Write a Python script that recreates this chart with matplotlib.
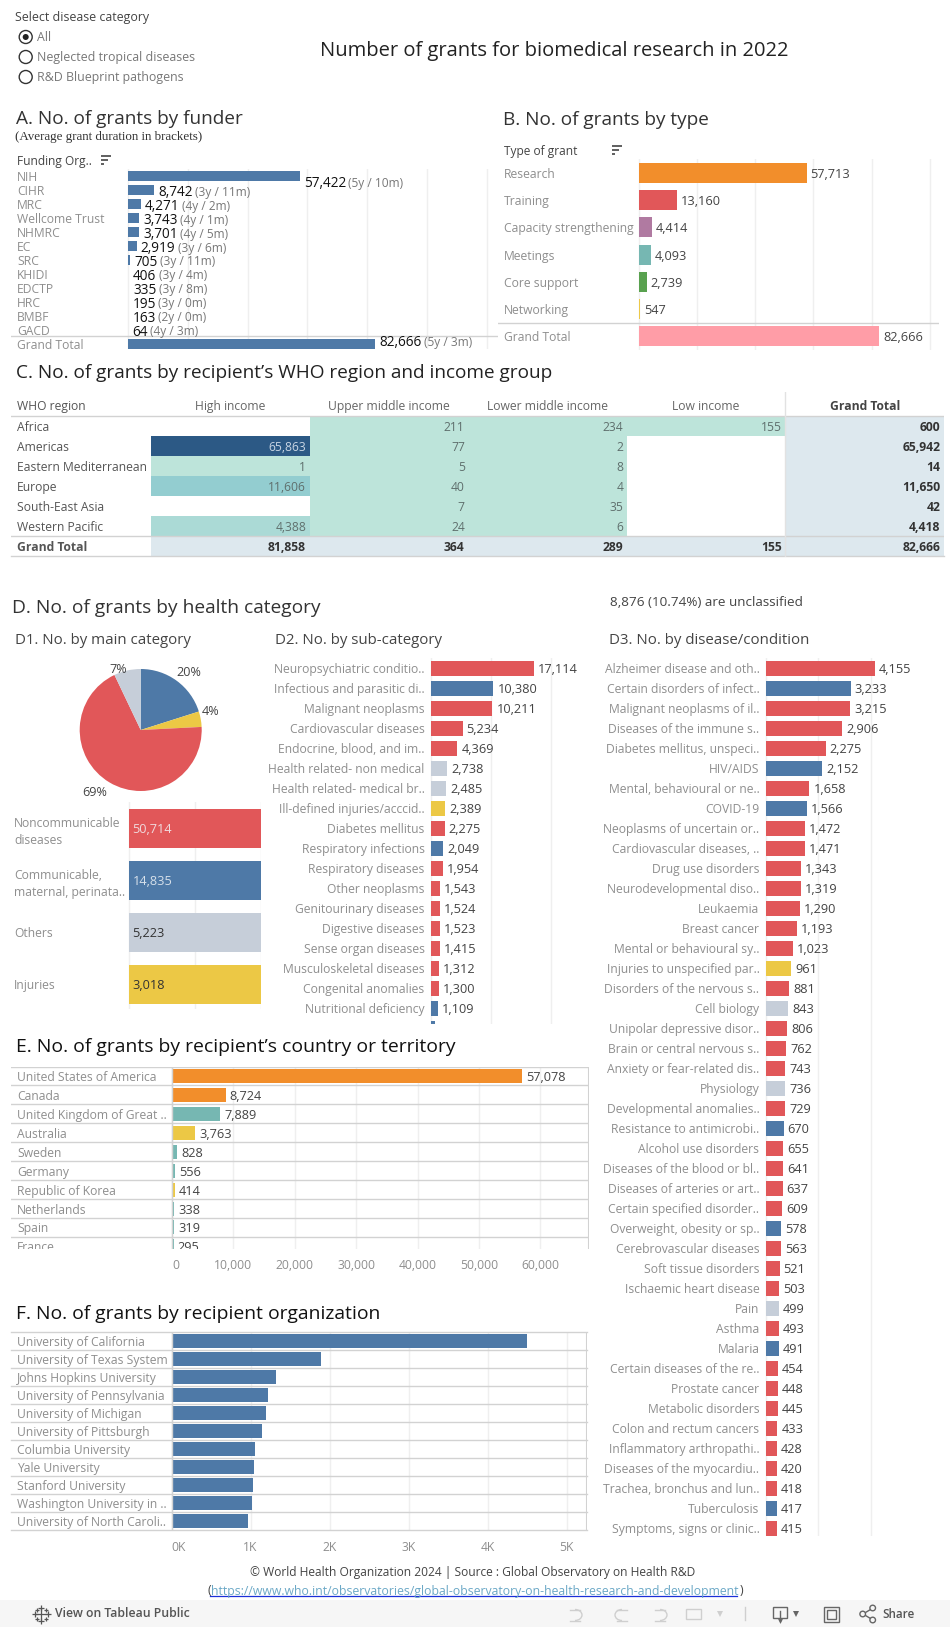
import numpy as np
import matplotlib
matplotlib.use('Agg')
import matplotlib.pyplot as plt
from matplotlib.colors import LinearSegmentedColormap
from matplotlib.patches import Arc, Circle, Rectangle

W, H = 950, 1627
PX = 72 / 100  # one pixel in points at dpi 100

funder_names = ['NIH', 'CIHR', 'MRC', 'Wellcome Trust', 'NHMRC', 'EC', 'SRC', 'KHIDI',
                'EDCTP', 'HRC', 'BMBF', 'GACD', 'Grand Total']
funder_values = [57422, 8742, 4271, 3743, 3701, 2919, 705, 406, 335, 195, 163, 64, 82666]
funder_durations = ['(5y / 10m)', '(3y / 11m)', '(4y / 2m)', '(4y / 1m)', '(4y / 5m)', '(3y / 6m)', '(3y / 11m)',
                    '(3y / 4m)', '(3y / 8m)', '(3y / 0m)', '(2y / 0m)', '(4y / 3m)', '(5y / 3m)']

type_names = ['Research', 'Training', 'Capacity strengthening', 'Meetings', 'Core support',
              'Networking', 'Grand Total']
type_values = [57713, 13160, 4414, 4093, 2739, 547, 82666]
type_colors = ['#f28e2b', '#e15759', '#b07aa1', '#76b7b2', '#59a14f', '#edc948', '#ff9da7']

regions = ['Africa', 'Americas', 'Eastern Mediterranean', 'Europe', 'South-East Asia', 'Western Pacific']
income_groups = ['High income', 'Upper middle income', 'Lower middle income', 'Low income']
high_income = [np.nan, 65863, 1, 11606, np.nan, 4388]
upper_middle = [211, 77, 5, 40, 7, 24]
lower_middle = [234, 2, 8, 4, 35, 6]
low_income = [155, np.nan, np.nan, np.nan, np.nan, np.nan]
region_totals = [600, 65942, 14, 11650, 42, 4418]
income_totals = [81858, 364, 289, 155, 82666]

main_names = ['Noncommunicable\ndiseases', 'Communicable,\nmaternal, perinata..', 'Others', 'Injuries']
main_values = [50714, 14835, 5223, 3018]
main_colors = ['#e15759', '#4e79a7', '#c6ced9', '#ecc845']
pie_order = [1, 3, 0, 2]

sub_names = ['Neuropsychiatric conditio..', 'Infectious and parasitic di..', 'Malignant neoplasms',
             'Cardiovascular diseases', 'Endocrine, blood, and im..', 'Health related- non medical',
             'Health related- medical br..', 'Ill-defined injuries/acccid..', 'Diabetes mellitus',
             'Respiratory infections', 'Respiratory diseases', 'Other neoplasms',
             'Genitourinary diseases', 'Digestive diseases', 'Sense organ diseases',
             'Musculoskeletal diseases', 'Congenital anomalies', 'Nutritional deficiency', '']
sub_values = [17114, 10380, 10211, 5234, 4369, 2738, 2485, 2389, 2275, 2049, 1954, 1543, 1524,
              1523, 1415, 1312, 1300, 1109, 700]
sub_groups = 'rbrrrggyrbrrrrrrrbb'

disease_names = ['Alzheimer disease and oth..', 'Certain disorders of infect..', 'Malignant neoplasms of il..',
                 'Diseases of the immune s..', 'Diabetes mellitus, unspeci..', 'HIV/AIDS',
                 'Mental, behavioural or ne..', 'COVID-19', 'Neoplasms of uncertain or..',
                 'Cardiovascular diseases, ..', 'Drug use disorders', 'Neurodevelopmental diso..',
                 'Leukaemia', 'Breast cancer', 'Mental or behavioural sy..', 'Injuries to unspecified par..',
                 'Disorders of the nervous s..', 'Cell biology', 'Unipolar depressive disor..',
                 'Brain or central nervous s..', 'Anxiety or fear-related dis..', 'Physiology',
                 'Developmental anomalies..', 'Resistance to antimicrobi..', 'Alcohol use disorders',
                 'Diseases of the blood or bl..', 'Diseases of arteries or art..', 'Certain specified disorder..',
                 'Overweight, obesity or sp..', 'Cerebrovascular diseases', 'Soft tissue disorders',
                 'Ischaemic heart disease', 'Pain', 'Asthma', 'Malaria', 'Certain diseases of the re..',
                 'Prostate cancer', 'Metabolic disorders', 'Colon and rectum cancers',
                 'Inflammatory arthropathi..', 'Diseases of the myocardiu..', 'Trachea, bronchus and lun..',
                 'Tuberculosis', 'Symptoms, signs or clinic..']
disease_values = [4155, 3233, 3215, 2906, 2275, 2152, 1658, 1566, 1472, 1471, 1343, 1319, 1290, 1193,
                  1023, 961, 881, 843, 806, 762, 743, 736, 729, 670, 655, 641, 637, 609, 578, 563,
                  521, 503, 499, 493, 491, 454, 448, 445, 433, 428, 420, 418, 417, 415]
disease_groups = 'rbrrrbrbrrrrrrryrgrr' + 'rgrbrrrrbrrrgrbrrrrrrrbr'

country_names = ['United States of America', 'Canada', 'United Kingdom of Great ..', 'Australia', 'Sweden',
                 'Germany', 'Republic of Korea', 'Netherlands', 'Spain', 'France']
country_values = [57078, 8724, 7889, 3763, 828, 556, 414, 338, 319, 295]
country_groups = 'ootyttyttt'
country_ticks = [0, 10000, 20000, 30000, 40000, 50000, 60000]

org_names = ['University of California', 'University of Texas System', 'Johns Hopkins University',
             'University of Pennsylvania', 'University of Michigan', 'University of Pittsburgh',
             'Columbia University', 'Yale University', 'Stanford University', 'Washington University in ..',
             'University of North Caroli..']
org_values = [4500, 1891, 1324, 1219, 1195, 1143, 1057, 1043, 1029, 1019, 967]
org_ticks = [0, 1000, 2000, 3000, 4000, 5000]

GROUP_COLORS = {'r': '#e15759', 'b': '#4e79a7', 'g': '#c6ced9', 'y': '#ecc845',
                'o': '#f28e2b', 't': '#76b7b2'}
GRID = '#efefef'
RULE = '#d2d2d2'
LABEL = '#8e8e8e'
VALUE = '#444444'
TITLE = '#333333'
FS = 8.75

plt.rcParams['font.family'] = ['Open Sans', 'DejaVu Sans']
fig = plt.figure(figsize=(W / 100, H / 100), dpi=100, facecolor='white')


def bar_axes(left, right, top, bottom, x0, scale, y0, step):
    """Axes placed in pixels; value 0 sits at x0 and row 0 at y0."""
    ax = fig.add_axes([left / W, 1 - bottom / H, (right - left) / W, (bottom - top) / H])
    ax.set_xlim((left - x0) / scale, (right - x0) / scale)
    ax.set_ylim((bottom - y0) / step, (top - y0) / step)
    ax.patch.set_alpha(0)
    for s in ax.spines.values():
        s.set_visible(False)
    ax.tick_params(length=0)
    ax.set_yticks([])
    ax.set_xticks([])
    ax.set_axisbelow(True)
    return ax


def grid_at(ax, ticks):
    for t in ticks:
        ax.axvline(t, color=GRID, lw=1, zorder=0)


def row_text(ax, names, dx, ha='left', color=LABEL, size=FS):
    for i, name in enumerate(names):
        t = ax.annotate(name, (0, i), xytext=(dx * PX, 0), textcoords='offset points', ha=ha,
                        va='center_baseline', color=color, fontsize=size, annotation_clip=False,
                        clip_on=True)
        t.set_clip_box(ax.bbox)


def value_text(ax, values, dx=4, show=None):
    for i, v in enumerate(values):
        if show is not None and i >= show:
            continue
        t = ax.annotate(f'{v:,}', (v, i), xytext=(dx * PX, 0), textcoords='offset points', ha='left',
                        va='center_baseline', color=VALUE, fontsize=FS + 0.4, annotation_clip=False,
                        clip_on=True)
        t.set_clip_box(ax.bbox)


# A. funder bars, the tiniest ones do not show up in the original
ax = bar_axes(11, 498, 169, 349, 128, 0.00299, 176, 14)
grid_at(ax, [0, 20000, 40000, 60000, 80000, 100000, 120000])
ax.barh(range(len(funder_values)), [v if v > 500 else 0 for v in funder_values], height=10 / 14, color='#4e79a7')
ax.axhline(11.43, color=RULE, lw=1)
row_text(ax, funder_names, 17 - 128)
for i, (v, d) in enumerate(zip(funder_values, funder_durations)):
    dy = {'NIH': -5.5, 'Grand Total': 3}.get(funder_names[i], -0.5)
    t = ax.annotate(f'{v:,}', (v, i), xytext=(4 * PX, dy * PX), textcoords='offset points',
                    va='center_baseline', color='#111111', fontsize=9.8, annotation_clip=False)
    ax.annotate(d, xy=(1, 0), xycoords=t, xytext=(2.5 * PX, 1.5 * PX), textcoords='offset points',
                va='bottom', color='#777777', fontsize=8.6, annotation_clip=False)

# B. grant type bars
ax = bar_axes(498, 939, 159, 350, 638.7, 0.00291, 173, 27.2)
grid_at(ax, [0, 20000, 40000, 60000, 80000, 100000])
ax.barh(range(len(type_values)), type_values, height=20 / 27.2, color=type_colors)
ax.axhline(5.5, color=RULE, lw=1)
row_text(ax, type_names, 504 - 638.7)
value_text(ax, type_values)

# C. region by income table
ax = bar_axes(11, 944, 392, 557, 151, 158.6, 426, 20)
cells = np.ma.masked_invalid(np.array([high_income, upper_middle, lower_middle, low_income]).T)
heat = LinearSegmentedColormap.from_list('heat', [(0, '#bde4da'), (0.07, '#aadad6'), (0.18, '#92cdd0'),
                                                  (1, '#2c5985')])
ax.pcolormesh(np.arange(5), np.arange(7) - 0.5, cells, cmap=heat, vmin=0, vmax=65863, zorder=1)
ax.add_patch(Rectangle((4, -0.5), 1, 7, color='#dde8ee', lw=0))
ax.add_patch(Rectangle((0, 5.5), 4, 1, color='#dde8ee', lw=0))
ax.axhline(-0.5, color=RULE, lw=1, zorder=3)
ax.axhline(5.5, color=RULE, lw=1, zorder=3)
ax.axhline(6.5, color=RULE, lw=1, zorder=3, clip_on=False)
ax.axvline(4, color='#e2e2e2', lw=1, zorder=3)
row_text(ax, regions + ['Grand Total'], -134, color='#555555')
ax.texts[-1].set_fontweight('bold')
for j, col in enumerate(cells.T):
    for i, v in enumerate(col):
        if not np.ma.is_masked(v):
            ax.annotate(f'{int(v):,}', (j + 1, i), xytext=(-3.5 * PX, 0), textcoords='offset points', ha='right',
                        va='center_baseline', fontsize=FS, color='#c9d6e4' if v > 50000 else '#5f6f6d', zorder=4)
for i, v in enumerate(region_totals):
    ax.annotate(f'{v:,}', (5, i), xytext=(-3.5 * PX, 0), textcoords='offset points', ha='right',
                va='center_baseline', fontsize=FS, fontweight='bold', color='#333333')
for j, v in enumerate(income_totals):
    ax.annotate(f'{v:,}', (j + 1, 6), xytext=(-3.5 * PX, 0), textcoords='offset points', ha='right',
                va='center_baseline', fontsize=FS, fontweight='bold', color='#333333')
for j, name in enumerate(income_groups):
    ax.text(j + 0.5, -1.05, name, ha='center', va='center_baseline', fontsize=FS, color='#666666')
ax.text(4.5, -1.05, 'Grand Total', ha='center', va='center_baseline', fontsize=FS, fontweight='bold', color='#444444')
ax.annotate('WHO region', (0, -1.05), xytext=(-134 * PX, 0), textcoords='offset points',
            va='center_baseline', fontsize=FS, color='#555555', annotation_clip=False)

# D1. pie and equal-length bars
pie_ax = fig.add_axes([(140.7 - 61) / W, 1 - (730 + 61) / H, 122 / W, 122 / H])
wedge_vals = [main_values[i] for i in pie_order]
pie_ax.pie(wedge_vals, colors=[main_colors[i] for i in pie_order], startangle=90, counterclock=False, radius=1)
pie_ax.set_xlim(-1, 1)
pie_ax.set_ylim(-1, 1)
cum = np.cumsum(wedge_vals) - np.array(wedge_vals) / 2
# tableau puts these labels by its own rules, so distance and turn are per slice
for c, d, turn, v in zip(cum, [1.235, 1.19, 1.266, 1.064], [3.5, -4.8, 5.5, -8], wedge_vals):
    theta = 2 * np.pi * c / sum(wedge_vals) + np.radians(turn)
    pie_ax.text(d * np.sin(theta), d * np.cos(theta), f'{v / sum(wedge_vals):.0%}', ha='center',
                va='center', fontsize=FS + 0.3, color='#444444', clip_on=False)

ax = bar_axes(14, 260.5, 802, 1009, 129, 131.5, 828.3, 52)
grid_at(ax, [0, 0.5, 1])
ax.barh(range(4), [1, 1, 1, 1], height=39 / 52, color=main_colors)
row_text(ax, main_names, 14 - 129)
for t in ax.texts:
    t.set_linespacing(1.45)
for i, v in enumerate(main_values):
    ax.annotate(f'{v:,}', (0, i), xytext=(3.5 * PX, 0), textcoords='offset points', va='center_baseline',
                fontsize=FS + 0.4, color='#f0d9dc' if i == 0 else '#d6e0ea' if i == 1 else '#333333')

# D2. sub-category
ax = bar_axes(260, 590, 657.7, 1024, 431, 0.00602, 668.3, 20)
grid_at(ax, [0, 10000, 20000])
ax.barh(range(len(sub_values)), sub_values, height=0.75, color=[GROUP_COLORS[g] for g in sub_groups])
row_text(ax, sub_names, -6.5, ha='right')
value_text(ax, sub_values, show=18)

# D3. disease or condition
ax = bar_axes(590, 945, 657.7, 1536, 766, 0.0262, 668.3, 20)
grid_at(ax, [0, 2000, 4000])
ax.barh(range(len(disease_values)), disease_values, height=0.75, color=[GROUP_COLORS[g] for g in disease_groups])
row_text(ax, disease_names, -6.5, ha='right')
value_text(ax, disease_values)

# E. countries
ax = bar_axes(11, 589, 1066.5, 1248.5, 172, 0.00614, 1076, 18.93)
grid_at(ax, country_ticks)
ax.barh(range(len(country_values)), country_values, height=14 / 18.93, color=[GROUP_COLORS[g] for g in country_groups])
for i in range(len(country_values)):
    ax.axhline(i - 0.5, color=RULE, lw=1)
ax.axvline(0, color=RULE, lw=1)
ax.axvline(ax.get_xlim()[1], color=RULE, lw=1.5)
row_text(ax, country_names, 17 - 172)
value_text(ax, country_values)
ax.set_xticks(country_ticks, [f'{t:,}' for t in country_ticks], fontsize=FS, color=LABEL)
ax.tick_params(axis='x', pad=7.5)
ax.get_xticklabels()[0].set_ha('left')

# F. organizations
ax = bar_axes(11, 586.5, 1332.3, 1530.3, 171.5, 0.079, 1341.3, 18)
grid_at(ax, org_ticks)
ax.barh(range(len(org_values)), org_values, height=14 / 18, color='#4e79a7')
for i in range(len(org_values) + 1):
    ax.axhline(i - 0.5, color=RULE, lw=1, clip_on=False)
ax.axvline(0, color=RULE, lw=1)
ax.axvline(ax.get_xlim()[1], color=RULE, lw=1.5)
row_text(ax, org_names, 17 - 171.5)
ax.set_xticks(org_ticks, [f'{t // 1000}K' for t in org_ticks], fontsize=FS, color=LABEL)
ax.tick_params(axis='x', pad=7.8)
ax.get_xticklabels()[0].set_ha('left')

# page furniture in pixel coordinates
ov = fig.add_axes([0, 0, 1, 1], zorder=5)
ov.set_xlim(0, W)
ov.set_ylim(H, 0)
ov.axis('off')


def label(x, y, s, size=FS, color=TITLE, **kw):
    kw.setdefault('va', 'center')
    ov.text(x, y, s, fontsize=size, color=color, **kw)


label(15, 17, 'Select disease category', color='#444444', size=8.95)
for y, s in zip([37, 57, 77], ['All', 'Neglected tropical diseases', 'R&D Blueprint pathogens']):
    ov.add_patch(Circle((25.7, y), 6.5, fc='white', ec='#333333', lw=1))
    label(37, y, s, color='#777777', size=8.9)
ov.add_patch(Circle((25.7, 37), 3, fc='#222222', ec='none'))
label(320, 51, 'Number of grants for biomedical research in 2022', size=14.5, color='#222222')

label(16, 119, 'A. No. of grants by funder', size=13.7)
ov.text(15, 137, '(Average grant duration in brackets)', fontsize=9.4, va='center', color='#333333',
        family='Liberation Serif')
label(503, 120, 'B. No. of grants by type', size=13.7)
label(16, 373, 'C. No. of grants by recipient\u2019s WHO region and income group', size=13.7, color='#222222')
label(12, 608, 'D. No. of grants by health category', size=13.8)
label(610.5, 602, '8,876 (10.74%) are unclassified', color='#444444', size=9.7)
label(15, 640, 'D1. No. by main category', size=10.8, color='#444444')
label(275, 640, 'D2. No. by sub-category', size=10.8, color='#444444')
label(609, 640, 'D3. No. by disease/condition', size=10.8, color='#444444')
label(16, 1046.7, 'E. No. of grants by recipient\u2019s country or territory', size=13.95, color='#111111')
label(16, 1313.7, 'F. No. of grants by recipient organization', size=13.9, color='#111111')

label(17, 161, 'Funding Org..', color='#444444', size=8.6, fontweight='medium')
label(504, 151, 'Type of grant', color='#444444', size=8.6, fontweight='medium')
for x, y in [(101, 155.5), (612, 145.5)]:
    for k, w in enumerate([10, 7, 3]):
        ov.plot([x, x + w], [y + k * 4.4] * 2, color='#444444', lw=1.2, solid_capstyle='butt')

label(473, 1572.7, '\u00a9 World Health Organization 2024 | Source : Global Observatory on Health R&D',
      ha='center', color='#444444', size=8.65)
ov.text(207, 1591, '(', fontsize=8.8, va='center', color='#444444')
ov.text(210.5, 1591, 'https://www.who.int/observatories/global-observatory-on-health-research-and-development',
        fontsize=8.8, va='center', color='#6ba8c6')
ov.plot([210, 737], [1596.3, 1596.3], color='#1a2fd8', lw=0.9)
ov.text(739.5, 1591, ')', fontsize=8.8, va='center', color='#444444')

# tableau toolbar
ov.add_patch(Rectangle((0, 1600), W, 27, fc='#f6f6f6', ec='none'))
label(55, 1613.7, 'View on Tableau Public', color='#555555', size=8.8, fontweight='semibold')
label(882.7, 1614, 'Share', color='#555555', size=8.4, fontweight='semibold')
for dx, dy, ms in [(0, 0, 9), (-6.5, 0, 4), (6.5, 0, 4), (0, -6.5, 4), (0, 6.5, 4),
                   (-4.5, -4.5, 3), (4.5, -4.5, 3), (-4.5, 4.5, 3), (4.5, 4.5, 3)]:
    ov.plot(41 + dx, 1614 + dy, '+', ms=ms, mew=0.9, color='#555555')
pale = '#cfcfcf'
for cx, a in [(575, 0), (622, 180), (660, 0)]:
    ov.add_patch(Arc((cx, 1615), 14, 11, theta1=-90, theta2=90, angle=a, ec=pale, lw=1))
    ov.plot([cx - 5, cx + 5], [1609.5, 1609.5], color=pale, lw=1)
    ov.plot([cx - 5, cx + 5], [1620.5, 1620.5], color=pale, lw=1)
ov.add_patch(Rectangle((686, 1609), 15, 10, fc='none', ec=pale, lw=1))
ov.plot(720, 1614, 'v', ms=5, color=pale, mew=0)
ov.plot([745.3, 745.3], [1607, 1620], color=pale, lw=1)
ov.add_patch(Rectangle((773, 1606.5), 13.5, 11, fc='none', ec='#666666', lw=1))
ov.plot([779.7, 779.7], [1611, 1621], color='#666666', lw=1)
ov.plot(779.7, 1621, 'v', ms=3.5, color='#666666', mew=0)
ov.plot(796, 1614, 'v', ms=5, color='#666666', mew=0)
ov.add_patch(Rectangle((823.5, 1606.5), 15, 15, fc='none', ec='#666666', lw=1))
ov.add_patch(Rectangle((827, 1610), 8.5, 8.5, fc='#f6f6f6', ec='#666666', lw=1))
ov.plot([873, 863, 873], [1608, 1614, 1620], color='#666666', lw=1)
for x, y in [(862.7, 1614), (872.7, 1608), (872.7, 1620)]:
    ov.add_patch(Circle((x, y), 2.8, fc='#f6f6f6', ec='#666666', lw=1, zorder=6))

fig.savefig('out.png', dpi=100)
